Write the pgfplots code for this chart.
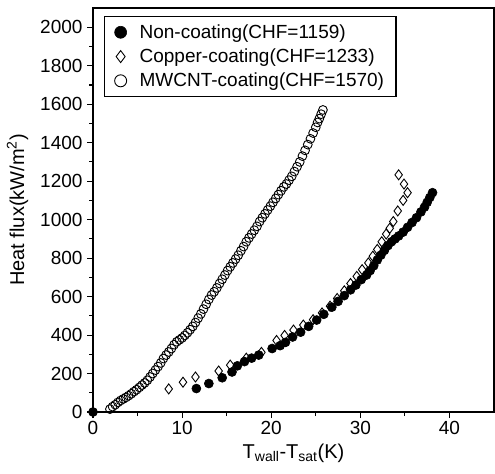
\documentclass[border=0pt]{standalone}
\usepackage{pgfplots}
\pgfplotsset{compat=1.18}
\usepackage{fontspec}
\setmainfont{Liberation Sans}

\pgfplotstableread{
x y
0 0
11.6 122
13.0 148
14.5 178
15.6 208
16.2 240
17.0 262
17.8 280
18.6 296
20.1 330
21.0 345
21.6 362
22.4 390
23.3 415
24.2 445
25.1 478
25.9 508
26.8 545
27.5 575
28.2 605
28.9 635
29.5 660
30.1 688
30.7 712
31.1 735
31.5 760
31.9 790
32.3 815
32.7 840
33.1 865
33.5 885
33.9 900
34.3 915
34.8 935
35.3 960
35.8 985
36.3 1010
36.8 1040
37.2 1065
37.5 1090
37.8 1115
38.1 1140
}\noncoat

\pgfplotstableread{
x y
8.5 120
10.1 155
11.5 182
14.1 213
15.4 244
17.2 280
18.9 310
20.6 372
21.5 398
22.5 426
23.6 452
24.7 480
25.7 515
26.6 550
27.4 590
28.2 630
28.9 668
29.6 705
30.2 740
30.9 775
31.4 810
31.9 845
32.4 885
32.9 925
33.3 955
33.7 990
34.2 1045
34.8 1100
35.3 1140
34.9 1185
34.3 1233
}\copper

\pgfplotstableread{
x y
1.9 15
2.2 28
2.5 38
2.8 50
3.1 60
3.4 68
3.7 76
4.0 85
4.3 95
4.6 106
4.9 116
5.2 128
5.5 140
5.8 151
6.1 165
6.4 182
6.7 200
7.0 218
7.3 236
7.6 255
7.9 278
8.2 296
8.5 312
8.8 330
9.1 350
9.4 365
9.7 375
10.0 385
10.3 398
10.6 412
10.9 428
11.2 445
11.5 465
11.8 488
12.1 510
12.4 535
12.7 560
13.0 585
13.3 608
13.6 625
13.9 645
14.2 668
14.5 690
14.8 712
15.1 735
15.4 755
15.7 775
16.0 795
16.3 815
16.6 838
16.9 860
17.2 885
17.5 905
17.8 925
18.1 945
18.4 965
18.7 990
19.0 1010
19.3 1030
19.6 1050
19.9 1070
20.2 1090
20.5 1110
20.8 1130
21.1 1150
21.4 1170
21.7 1185
22.0 1205
22.3 1225
22.6 1250
22.9 1275
23.2 1300
23.5 1330
23.8 1360
24.1 1390
24.4 1420
24.7 1450
25.0 1480
25.2 1505
25.4 1525
25.6 1548
25.8 1570
}\mwcnt

\begin{document}
\begin{tikzpicture}
\begin{axis}[
  name=ax,
  scale only axis,
  width=401pt,
  height=404pt,
  xmin=0, xmax=45,
  ymin=0, ymax=2100,
  xtick={0,10,20,30,40},
  ytick={0,200,...,2000},
  minor x tick num=1,
  minor y tick num=1,
  xtick pos=bottom,
  ytick pos=left,
  tick align=outside,
  major tick length=6pt,
  minor tick length=4pt,
  axis line style={line width=1.2pt},
  every tick/.style={black,line width=1.1pt},
  tick label style={font=\fontsize{19}{22}\selectfont},
  yticklabel style={xshift=-1pt},
  /pgf/number format/assume math mode=true,
  /pgf/number format/1000 sep={},
  xlabel={T\textsubscript{wall}-T\textsubscript{sat}(K)},
  ylabel={Heat flux(kW/m\textsuperscript{2})},
  label style={font=\fontsize{20}{23}\selectfont},
  xlabel style={yshift=-2pt},
  ylabel style={yshift=5pt},
  clip=false,
  legend cell align=left,
  legend style={
    at={(axis description cs:0,1)}, anchor=north west,
    xshift=11pt, yshift=-8pt,
    draw=black, line width=1.3pt,
    font=\fontsize{19}{22}\selectfont,
    row sep=5pt,
    inner xsep=10pt, inner ysep=6pt,
    /tikz/every odd column/.append style={column sep=11pt}
  }
]
\addplot[only marks, mark=*, mark size=4.5pt, mark options={fill=black, draw=black, line width=0.6pt},
  legend image post style={mark size=6pt}] table {\noncoat};
\addlegendentry{Non-coating(CHF=1159)}
\addplot[only marks, mark=diamond, mark size=5pt, mark options={draw=black, fill=white, line width=0.9pt},
  legend image post style={mark size=6pt}] table {\copper};
\addlegendentry{Copper-coating(CHF=1233)}
\addplot[only marks, mark=o, mark size=4.4pt, mark options={draw=black, fill=none, line width=0.9pt},
  legend image post style={mark size=6pt}] table {\mwcnt};
\addlegendentry{MWCNT-coating(CHF=1570)}
\end{axis}
\pgfresetboundingbox
\path[use as bounding box] ([shift={(-93pt,-61pt)}]ax.south west) rectangle ([shift={(1pt,8pt)}]ax.north east);
\end{tikzpicture}
\end{document}
